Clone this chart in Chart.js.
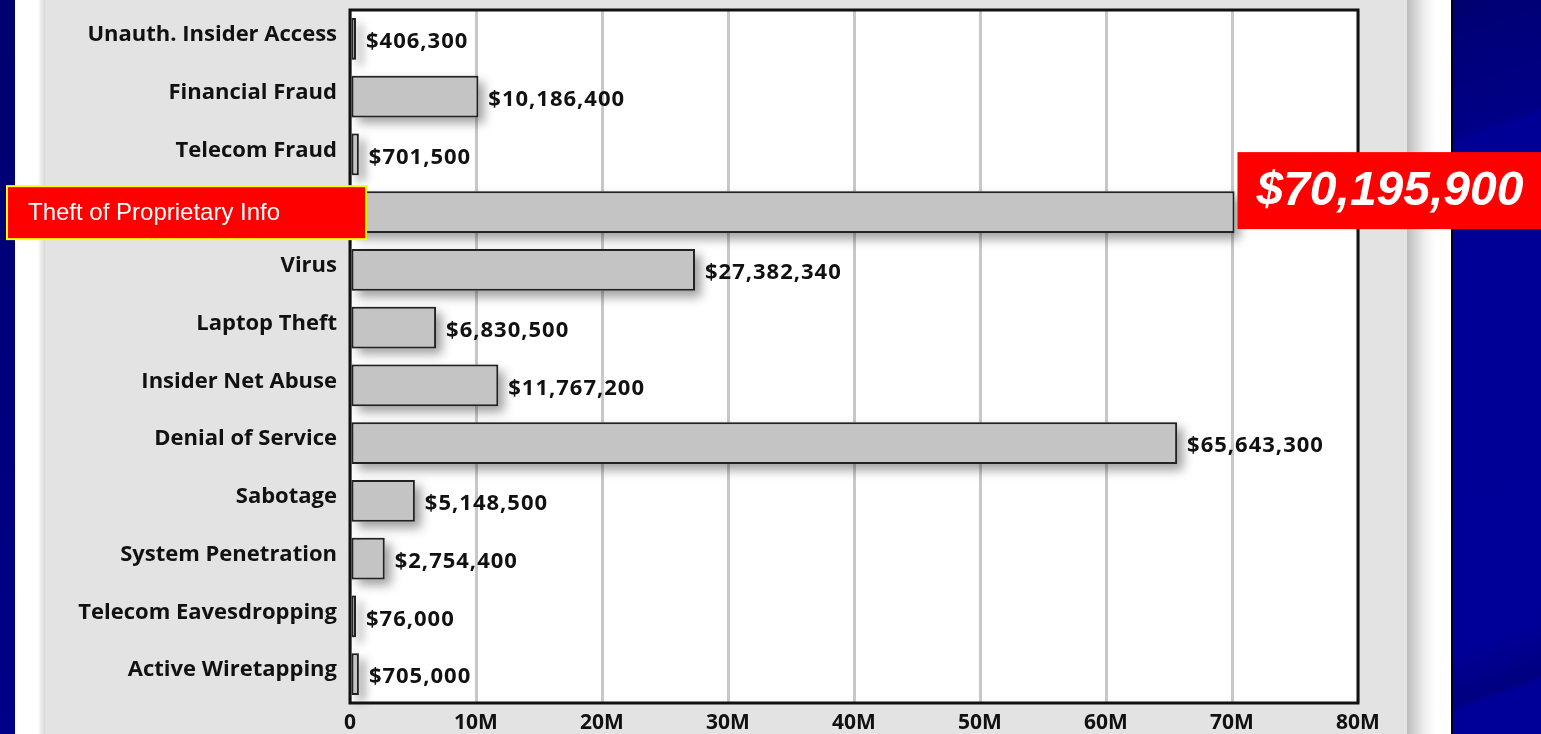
<!DOCTYPE html>
<html>
<head>
<meta charset="utf-8">
<script src="https://cdn.jsdelivr.net/npm/chart.js@4.4.0/dist/chart.umd.min.js"></script>
<style>
  html, body { margin: 0; padding: 0; }
  body { width: 1541px; height: 734px; overflow: hidden; position: relative; background: #000090; }
  .strip { position: absolute; top: 0; height: 734px; }
  #leftBlue { left: 0; width: 15px; background: linear-gradient(to bottom, #000070, #000088); }
  #leftWhite { left: 15px; width: 30px; background: linear-gradient(to right, #ffffff 75%, #d8d8d8); }
  #panel { left: 45px; width: 1362px; background: #e3e3e3; }
  #rightShade { left: 1407px; width: 44px; background: linear-gradient(to right, #bdbdbd, #efefef 40%, #ffffff 65%); }
  #rightBlue { left: 1451px; width: 90px; border-left: 2px solid #000018;
    background: linear-gradient(160deg, #000070 0%, #000088 18%, #000096 19%, #000098 85%, #000080 92%, #000098 93%); }
  #wrap { position: absolute; left: 0; top: 0; width: 1541px; height: 734px; }
</style>
</head>
<body>
<div class="strip" id="leftBlue"></div>
<div class="strip" id="leftWhite"></div>
<div class="strip" id="panel"></div>
<div class="strip" id="rightShade"></div>
<div class="strip" id="rightBlue"></div>
<div id="wrap"><canvas id="lossChart" width="1541" height="734"></canvas></div>

<script>
// dollar losses by type of attack
const categories = ['Unauth. Insider Access', 'Financial Fraud', 'Telecom Fraud', 'Theft of Proprietary Info',
  'Virus', 'Laptop Theft', 'Insider Net Abuse', 'Denial of Service', 'Sabotage', 'System Penetration',
  'Telecom Eavesdropping', 'Active Wiretapping'];
const losses = [406300, 10186400, 701500, 70195900, 27382340, 6830500, 11767200, 65643300, 5148500, 2754400, 76000, 705000];
const xTickLabels = ['0', '10M', '20M', '30M', '40M', '50M', '60M', '70M', '80M'];
const highlightIndex = 3;

const labelFont = '"Open Sans", "DejaVu Sans", sans-serif';

function money(v) {
  return '$' + v.toLocaleString('en-US');
}

const decorations = {
  id: 'decorations',
  beforeDraw(chart) {
    const { ctx, chartArea: a } = chart;
    ctx.save();
    ctx.fillStyle = '#ffffff';
    ctx.fillRect(a.left, a.top, a.right - a.left, a.bottom - a.top);
    ctx.restore();
  },
  beforeDatasetsDraw(chart) {
    const { ctx, chartArea: a } = chart;
    // soft drop shadow under each bar
    ctx.save();
    ctx.shadowColor = 'rgba(0,0,0,0.38)';
    ctx.shadowBlur = 10;
    ctx.shadowOffsetX = 6;
    ctx.shadowOffsetY = 6;
    ctx.fillStyle = '#c4c4c4';
    chart.getDatasetMeta(0).data.forEach(el => {
      ctx.fillRect(el.base, el.y - el.height / 2, el.x - el.base, el.height);
    });
    ctx.restore();
    // plot frame
    ctx.save();
    ctx.strokeStyle = '#111';
    ctx.lineWidth = 3;
    ctx.strokeRect(a.left, a.top, a.right - a.left, a.bottom - a.top);
    ctx.restore();
  },
  afterDatasetsDraw(chart) {
    const { ctx } = chart;
    const bars = chart.getDatasetMeta(0).data;
    ctx.save();
    ctx.font = 'bold 22px ' + labelFont;
    ctx.letterSpacing = '1px';
    ctx.fillStyle = '#111';
    ctx.textAlign = 'left';
    ctx.textBaseline = 'middle';
    bars.forEach((el, i) => {
      if (i === highlightIndex) return;
      ctx.fillText(money(losses[i]), el.x + 10, el.y + 3);
    });
    ctx.letterSpacing = '0px';

    // red callouts for the biggest loss
    const hl = bars[highlightIndex];
    ctx.fillStyle = '#ff0000';
    ctx.fillRect(hl.x + 3, hl.y - 60, chart.width - hl.x, 77);
    ctx.fillStyle = '#ffffff';
    ctx.font = 'italic bold 48px "Liberation Sans", Arial, sans-serif';
    ctx.fillText(money(losses[highlightIndex]), hl.x + 22, hl.y - 20);

    ctx.fillStyle = '#ff0000';
    ctx.fillRect(7, hl.y - 26, 359, 53);
    ctx.strokeStyle = '#ffff00';
    ctx.lineWidth = 2;
    ctx.strokeRect(7, hl.y - 26, 359, 53);
    ctx.fillStyle = '#ffffff';
    ctx.font = '24px "Liberation Sans", Arial, sans-serif';
    ctx.fillText(categories[highlightIndex], 28, hl.y + 1);
    ctx.restore();
  }
};

new Chart(document.getElementById('lossChart'), {
  type: 'bar',
  data: {
    labels: categories,
    datasets: [{
      data: losses,
      backgroundColor: '#c4c4c4',
      borderColor: '#222',
      borderWidth: 2,
      borderSkipped: false,
      barPercentage: 0.72,
      categoryPercentage: 1,
      minBarLength: 6
    }]
  },
  options: {
    indexAxis: 'y',
    responsive: false,
    animation: false,
    layout: { padding: { top: 10, right: 183, left: 0, bottom: 0 } },
    plugins: { legend: { display: false }, tooltip: { enabled: false } },
    scales: {
      y: {
        grid: { display: false },
        border: { display: false },
        afterFit(scale) {
          scale.width = 350;
          scale.paddingTop = 0;
          scale.paddingBottom = 0;
        },
        ticks: {
          padding: 5,
          labelOffset: -4,
          color: '#111',
          font: { family: labelFont, weight: 'bold', size: 22 },
          callback: (v, i) => i === highlightIndex ? '' : categories[i]
        }
      },
      x: {
        min: 0,
        max: 80000000,
        grid: { color: '#c8c8c8', lineWidth: 3, drawTicks: false },
        border: { display: false },
        afterFit(scale) { scale.height = 31; },
        ticks: {
          stepSize: 10000000,
          padding: 7,
          color: '#111',
          font: { family: labelFont, weight: 'bold', size: 21 },
          callback: (v, i) => xTickLabels[i]
        }
      }
    }
  },
  plugins: [decorations]
});
</script>
</body>
</html>
